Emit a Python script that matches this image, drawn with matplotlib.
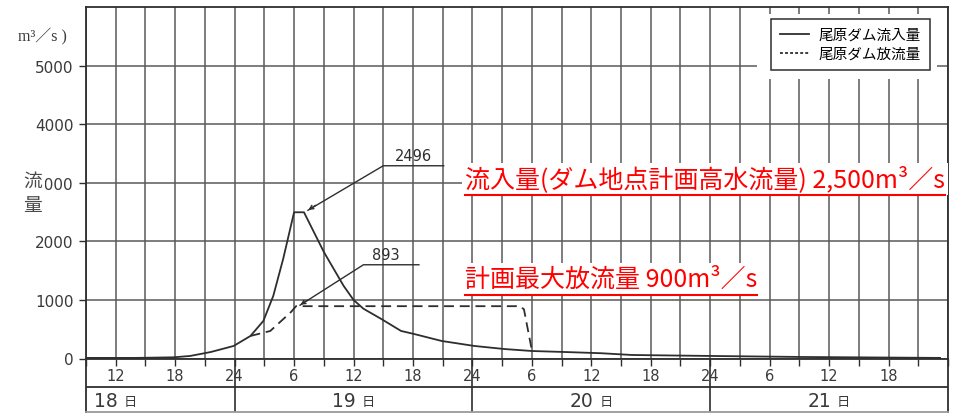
import matplotlib
matplotlib.use("Agg")
import matplotlib.pyplot as plt
from matplotlib.lines import Line2D
from matplotlib.patches import Rectangle

# time axis: hours counted from 0:00 on the 18th
peak_inflow = 2496
max_release = 893

inflow_hours = [9, 14, 17.8, 19.5, 21.6, 23.9, 25.6, 26.9, 27.9, 28.9, 30, 31,
                33, 35, 36, 37, 38.8, 40.8, 42.1, 44.9, 48.2, 51.2, 54, 57.3,
                61, 64.1, 72.2, 81.3, 95.2]
inflow_values = [10, 10, 20, 43, 111, 214, 385, 641, 1068, 1700, peak_inflow,
                 peak_inflow, 1820, 1240, 1000, 850, 675, 470, 419, 299, 214,
                 162, 128, 111, 90, 60, 43, 26, 10]

release_hours = [25.6, 27.6, 29.7, 30.2, 52.8, 53.2, 54.0]
release_values = [385, 470, 795, max_release, max_release, 840, 140]

hour_ticks = [12, 18, 24, 30, 36, 42, 48, 54, 60, 66, 72, 78, 84, 90]
hour_labels = ["12", "18", "24", "6", "12", "18", "24", "6", "12", "18",
               "24", "6", "12", "18"]
day_pos = [12.5, 36.5, 60.5, 84.5]
day_labels = ["18", "19", "20", "21"]
day_breaks = [24, 48, 72]

inflow_name = "尾原ダム流入量"
release_name = "尾原ダム放流量"

CJK = ["Noto Sans CJK JP", "DejaVu Sans"]
INK = "#2e2e2e"
GRID = "#5a5a5a"

W, H = 955, 414
fig = plt.figure(figsize=(W / 100, H / 100), dpi=100)


def fx(px):
    return px / W


def fy(py):
    return 1 - py / H


# hour/day band underneath, then the main plotting area on top of it
band = fig.add_axes([fx(86), fy(413), fx(948) - fx(86), fy(359.5) - fy(413)])
ax = fig.add_axes([fx(86), fy(359.5), fx(948) - fx(86), fy(8) - fy(359.5)])

ax.set_xlim(9, 96)
ax.set_ylim(0, 6000)
ax.set_axisbelow(True)

ax.plot(inflow_hours, inflow_values, color=INK, lw=1.3, zorder=3)
ax.plot(release_hours, release_values, color=INK, lw=1.3,
        ls=(0, (5.5, 3.2)), zorder=3)

ax.set_yticks(range(0, 6000, 1000))
ax.set_xticks(hour_ticks)
ax.set_xticklabels(hour_labels)
ax.set_xticks(range(9, 97, 3), minor=True)
ax.tick_params(axis="both", which="both", direction="out", length=5,
               width=1.0, color=INK, labelcolor="#3a3a3a", labelsize=10.5)
ax.tick_params(axis="x", which="major", pad=2)
ax.tick_params(axis="y", labelsize=11, pad=4)
ax.grid(True, which="both", color=GRID, lw=1.1)
for sp in ax.spines.values():
    sp.set_color(INK)
    sp.set_linewidth(1.3)

# value callouts
ax.plot([45.1, 39.0, 31.4], [3290, 3290, 2530], color=INK, lw=1.0, zorder=3)
ax.annotate("", xy=(31.2, 2510), xytext=(32.4, 2640),
            arrowprops=dict(arrowstyle="->", color=INK, lw=1.0,
                            mutation_scale=7), zorder=3)
ax.text(42.0, 3330, str(peak_inflow), ha="center", va="bottom",
        fontsize=10.5, color=INK)

ax.plot([42.6, 37.0, 30.6], [1600, 1600, 910], color=INK, lw=1.0, zorder=3)
ax.annotate("", xy=(30.4, 893), xytext=(31.6, 1020),
            arrowprops=dict(arrowstyle="->", color=INK, lw=1.0,
                            mutation_scale=7), zorder=3)
ax.text(39.3, 1640, str(max_release), ha="center", va="bottom",
        fontsize=10.5, color=INK)

# legend with a blank margin cut out of the grid
ax.add_patch(Rectangle((0.778, 0.795), 0.209, 0.185, transform=ax.transAxes,
                       facecolor="white", edgecolor="none", zorder=2))
handles = [Line2D([], [], color=INK, lw=1.3),
           Line2D([], [], color=INK, lw=1.3, ls=(0, (1.6, 1.2)))]
leg = ax.legend(handles, [inflow_name, release_name], loc="upper right",
                bbox_to_anchor=(fx(930), fy(20)), bbox_transform=fig.transFigure,
                borderaxespad=0, fancybox=False, framealpha=1,
                prop={"family": CJK, "size": 10.5}, handlelength=2.0,
                handletextpad=0.7, labelspacing=0.35, borderpad=0.6)
leg.get_frame().set_edgecolor(INK)
leg.get_frame().set_linewidth(1.1)
leg.set_zorder(5)

# band below: day separators and day names
band.set_xlim(9, 96)
band.set_ylim(0, 1)
band.set_xticks([])
band.set_yticks([])
band.spines["top"].set_visible(False)
for side in ("left", "right", "bottom"):
    band.spines[side].set_color(INK)
    band.spines[side].set_linewidth(1.3)
band.spines["bottom"].set_color("#9a9a9a")
band.axhline(0.467, color=INK, lw=1.3)
for b in day_breaks:
    band.axvline(b, color=INK, lw=1.2)
for x, lab in zip(day_pos, day_labels):
    band.text(x - 0.3, 0.22, lab, ha="right", va="center", fontsize=13.5,
              color="#3a3a3a")
    band.text(x + 0.3, 0.2, "日", ha="left", va="center", fontsize=9.5,
              color="#3a3a3a", family=CJK)
ax.patch.set_visible(False)

# axis title pieces on the left
fig.text(fx(18), fy(37), "m³／s )", ha="left", va="center", fontsize=11.5,
         color="#3a3a3a", family=["Liberation Serif", "Noto Sans CJK JP"])
fig.text(fx(33), fy(181), "流", ha="center", va="center", fontsize=13.5,
         color="#4a4a4a", family=CJK,
         bbox=dict(boxstyle="square,pad=0.12", fc="white", ec="none"))
fig.text(fx(33), fy(206), "量", ha="center", va="center", fontsize=13.5,
         color="#4a4a4a", family=CJK)

# red planning notes, underlined
notes = [("流入量(ダム地点計画高水流量) 2,500m³／s", 180),
         ("計画最大放流量 900m³／s", 280)]
note_texts = []
for txt, ypx in notes:
    t = fig.text(fx(465), fy(ypx), txt, ha="left", va="center", fontsize=18,
                 color="#ff0000", family=CJK, zorder=6,
                 bbox=dict(boxstyle="square,pad=0.12", fc="white", ec="none"))
    note_texts.append(t)

fig.canvas.draw()
renderer = fig.canvas.get_renderer()
for t in note_texts:
    bb = t.get_window_extent(renderer)
    yline = bb.y0 - 3
    fig.add_artist(Line2D([bb.x0 / W, bb.x1 / W], [yline / H, yline / H],
                          transform=fig.transFigure, color="#ff0000", lw=1.5,
                          zorder=7))

fig.savefig("out.png", dpi=100)
